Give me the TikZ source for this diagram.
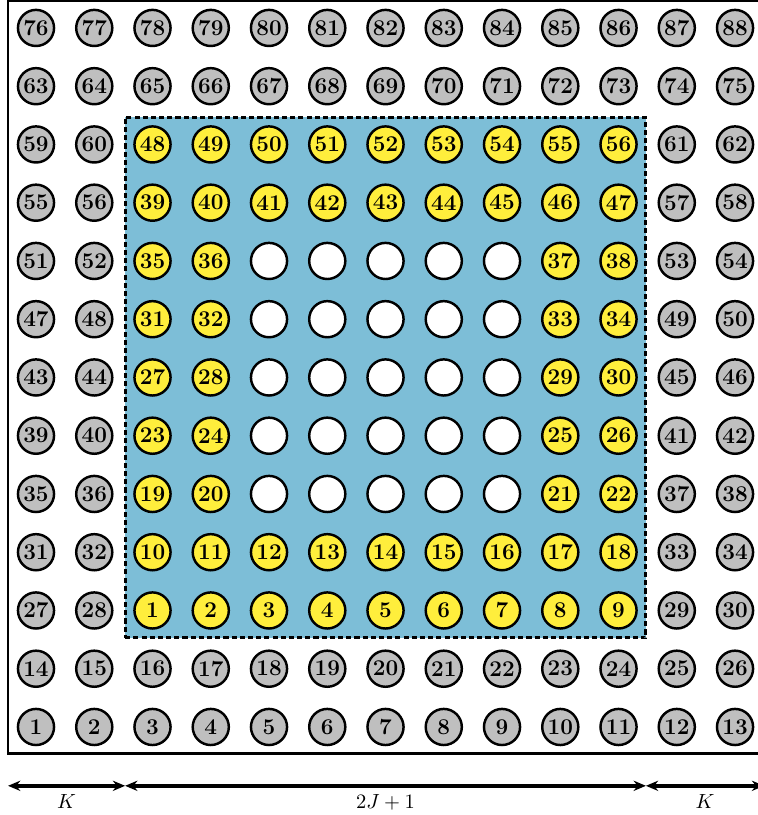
\documentclass[tikz,border=0pt]{standalone}
\usepackage{amsmath}
\usepackage{xcolor}
\usepackage{tikz}
\usetikzlibrary{positioning, arrows.meta}

\definecolor{poolblue}{RGB}{125,190,215}
\definecolor{ptyellow}{RGB}{255,238,60}

\begin{document}
\begin{tikzpicture}[
  site/.style={circle, draw=black, line width=1.2pt, fill=gray!50, minimum size=0.62cm, inner sep=0pt, font=\fontsize{11}{13}\selectfont\bfseries},
  inpt/.style={site, fill=ptyellow},
  hole/.style={site, fill=white},
  pool/.style={rectangle, draw=black, line width=1.5pt, dash pattern=on 2.5pt off 1.5pt, fill=poolblue, inner sep=0pt},
  dimarr/.style={{Stealth[length=6pt, width=5pt]}-{Stealth[length=6pt, width=5pt]}, line width=1.8pt}
]
\useasboundingbox (-0.618,-1.511) rectangle (12.378,12.48);

% --- Frame (cut on the right) ---
\draw[line width=1.3pt] (12.4,12.46) -- (-0.48,12.46) -- (-0.48,-0.46) -- (12.4,-0.46);

% --- Inner region ---
\node[pool, minimum width=8.94cm, minimum height=8.94cm] (box) at (6,6) {};

% --- Outer (gray) sites ---
\foreach \r in {0,1} \foreach \c in {0,...,12} {
  \pgfmathtruncatemacro\n{13*\r+\c+1}
  \node[site] (g\n) at (\c,\r) {\n};
}
\foreach \r in {2,...,10} \foreach \c/\k in {0/0, 1/1, 11/2, 12/3} {
  \pgfmathtruncatemacro\n{27+4*(\r-2)+\k}
  \node[site] (g\n) at (\c,\r) {\n};
}
\foreach \r in {11,12} \foreach \c in {0,...,12} {
  \pgfmathtruncatemacro\n{63+13*(\r-11)+\c}
  \node[site] (g\n) at (\c,\r) {\n};
}

% --- Inner (yellow) sites ---
\foreach \r in {2,3} \foreach \c in {2,...,10} {
  \pgfmathtruncatemacro\n{9*(\r-2)+\c-1}
  \node[inpt] (y\n) at (\c,\r) {\n};
}
\foreach \r in {4,...,8} \foreach \c/\k in {2/0, 3/1, 9/2, 10/3} {
  \pgfmathtruncatemacro\n{19+4*(\r-4)+\k}
  \node[inpt] (y\n) at (\c,\r) {\n};
}
\foreach \r in {9,10} \foreach \c in {2,...,10} {
  \pgfmathtruncatemacro\n{39+9*(\r-9)+\c-2}
  \node[inpt] (y\n) at (\c,\r) {\n};
}

% --- Empty sites ---
\foreach \r in {4,...,8} \foreach \c in {4,...,8} {
  \node[hole] (w\c-\r) at (\c,\r) {};
}

% --- Widths below ---
\coordinate (d0) at (-0.48,-1.01);
\coordinate (d1) at (1.53,-1.01);
\coordinate (d2) at (10.47,-1.01);
\coordinate (d3) at (12.5,-1.01);
\draw[dimarr] (d0) -- (d1) node[midway, below=0pt] {$K$};
\draw[dimarr] (d1) -- (d2) node[midway, below=0pt] {$2J+1$};
\draw[dimarr] (d2) -- (d3) node[midway, below=0pt] {$K$};

\end{tikzpicture}
\end{document}
